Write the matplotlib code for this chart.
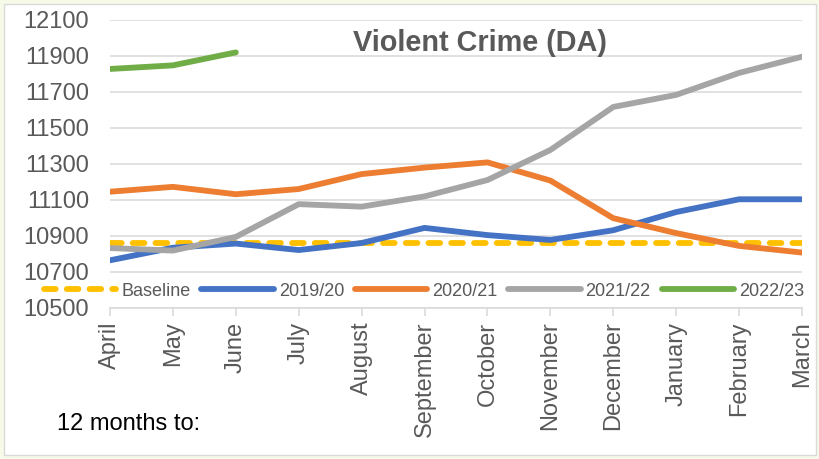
import matplotlib
matplotlib.use("Agg")
import matplotlib.pyplot as plt
from matplotlib.patches import Rectangle

plt.rcParams["font.family"] = ["Liberation Sans", "DejaVu Sans"]

# Rolling 12-month totals, Violent Crime (DA)
months = ["April", "May", "June", "July", "August", "September", "October",
          "November", "December", "January", "February", "March"]
baseline = [10860] * 12
fy_2019_20 = [10765, 10835, 10858, 10822, 10861, 10945, 10905, 10878, 10932, 11033, 11104, 11104]
fy_2020_21 = [11146, 11173, 11132, 11161, 11244, 11280, 11309, 11208, 10999, 10916, 10845, 10808]
fy_2021_22 = [10833, 10819, 10895, 11077, 11063, 11120, 11211, 11378, 11617, 11684, 11806, 11896]
fy_2022_23 = [11828, 11848, 11920]

series_labels = ["Baseline", "2019/20", "2020/21", "2021/22", "2022/23"]
y_ticks = list(range(10500, 12101, 200))

W, H = 819, 459
fig = plt.figure(figsize=(W / 100, H / 100), dpi=100)
fig.patch.set_facecolor("#F6FAE8")
fig.add_artist(Rectangle((4 / W, 4 / H), 812 / W, 451 / H, transform=fig.transFigure,
                         facecolor="white", edgecolor="#D9D9D9", lw=1.0, zorder=-10))

ax = fig.add_axes([110 / W, (H - 308) / H, (802 - 110) / W, 288 / H])
ax.set_facecolor("none")

grey_txt = "#595959"
lw = 4.2
x = list(range(len(months)))

ax.plot(x, baseline, color="#FFC000", lw=lw, dashes=(2.0, 1.9),
        dash_capstyle="round", label=series_labels[0], zorder=3)
ax.plot(x, fy_2019_20, color="#4472C4", lw=lw, solid_capstyle="round",
        solid_joinstyle="round", label=series_labels[1], zorder=4)
ax.plot(x, fy_2020_21, color="#ED7D31", lw=lw, solid_capstyle="round",
        solid_joinstyle="round", label=series_labels[2], zorder=5)
ax.plot(x, fy_2021_22, color="#A5A5A5", lw=lw, solid_capstyle="round",
        solid_joinstyle="round", label=series_labels[3], zorder=6)
ax.plot(x[:len(fy_2022_23)], fy_2022_23, color="#70AD47", lw=lw, solid_capstyle="round",
        solid_joinstyle="round", label=series_labels[4], zorder=7)

ax.set_xlim(0, len(months) - 1)
ax.set_ylim(y_ticks[0], y_ticks[-1])
ax.set_yticks(y_ticks)
ax.set_yticklabels([str(v) for v in y_ticks], fontsize=17, color=grey_txt)
ax.set_xticks(x)
ax.set_xticklabels(months, rotation=90, fontsize=17, color=grey_txt)

ax.tick_params(axis="y", length=0, pad=15)
ax.tick_params(axis="x", length=5.8, width=1.1, color="#D9D9D9", pad=4, direction="out")

ax.grid(axis="y", color="#D9D9D9", lw=1.1)
ax.set_axisbelow(True)
for side in ("top", "right", "left"):
    ax.spines[side].set_visible(False)
ax.spines["bottom"].set_color("#D9D9D9")
ax.spines["bottom"].set_linewidth(1.1)

leg = ax.legend(loc="center", bbox_to_anchor=(424 / W, 1 - 291 / H),
                bbox_transform=fig.transFigure, ncol=5, frameon=False,
                fontsize=13, handlelength=4.0, handletextpad=0.28,
                columnspacing=0.6, borderpad=0, borderaxespad=0)
for t in leg.get_texts():
    t.set_color(grey_txt)
leg.set_zorder(10)

fig.text(480 / W, 1 - 43 / H, "Violent Crime (DA)", ha="center", va="center",
         fontsize=20.8, fontweight="bold", color=grey_txt)
fig.text(57 / W, 1 - 430 / H, "12 months to:", ha="left", va="baseline",
         fontsize=17, color="black")

fig.savefig("out.png", dpi=100, facecolor=fig.get_facecolor())
